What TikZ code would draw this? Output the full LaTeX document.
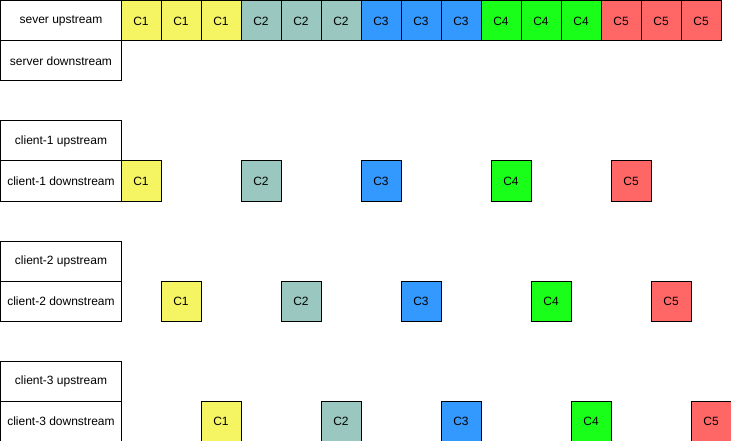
\documentclass[tikz,border=0pt]{standalone}
\usepackage{fontspec}
\setmainfont{Liberation Sans}
\definecolor{cyel}{HTML}{F5F564}
\definecolor{cteal}{HTML}{9AC7BF}
\definecolor{cblue}{HTML}{3399FF}
\definecolor{cgreen}{HTML}{1AFF1A}
\definecolor{cred}{HTML}{FF6666}
\begin{document}
\begin{tikzpicture}[x=1pt,y=-1pt,
  lbl/.style={draw=black,line width=1pt,fill=white,minimum width=120pt,minimum height=40pt,inner sep=0pt,anchor=north west,font=\fontsize{12}{14}\selectfont},
  cbox/.style={draw=black,line width=1pt,minimum width=40pt,minimum height=40pt,inner sep=0pt,anchor=north west,font=\fontsize{12}{14}\selectfont}]
\useasboundingbox (-0.5,-0.5) rectangle (730.5,440.5);
% server
\node[lbl] (su) at (0,0) {sever upstream};
\node[lbl] (sd) at (0,40) {server downstream};
\foreach \i/\c/\t in {0/cyel/C1,1/cyel/C1,2/cyel/C1,3/cteal/C2,4/cteal/C2,5/cteal/C2,6/cblue/C3,7/cblue/C3,8/cblue/C3,9/cgreen/C4,10/cgreen/C4,11/cgreen/C4,12/cred/C5,13/cred/C5,14/cred/C5}
  \node[cbox,fill=\c] (s\i) at (120+40*\i,0) {\t};
% clients
\foreach \k/\y/\o in {1/120/0,2/240/40,3/360/80}{
  \node[lbl] (c\k u) at (0,\y) {client-\k{} upstream};
  \node[lbl] (c\k d) at (0,\y+40) {client-\k{} downstream};
  \node[cbox,fill=cyel] (c\k a) at (120+\o,\y+40) {C1};
  \node[cbox,fill=cteal] (c\k b) at (240+\o,\y+40) {C2};
  \node[cbox,fill=cblue] (c\k c) at (360+\o,\y+40) {C3};
  \node[cbox,fill=cgreen] (c\k e) at (490+\o,\y+40) {C4};
  \node[cbox,fill=cred] (c\k f) at (610+\o,\y+40) {C5};
}
\end{tikzpicture}
\end{document}
